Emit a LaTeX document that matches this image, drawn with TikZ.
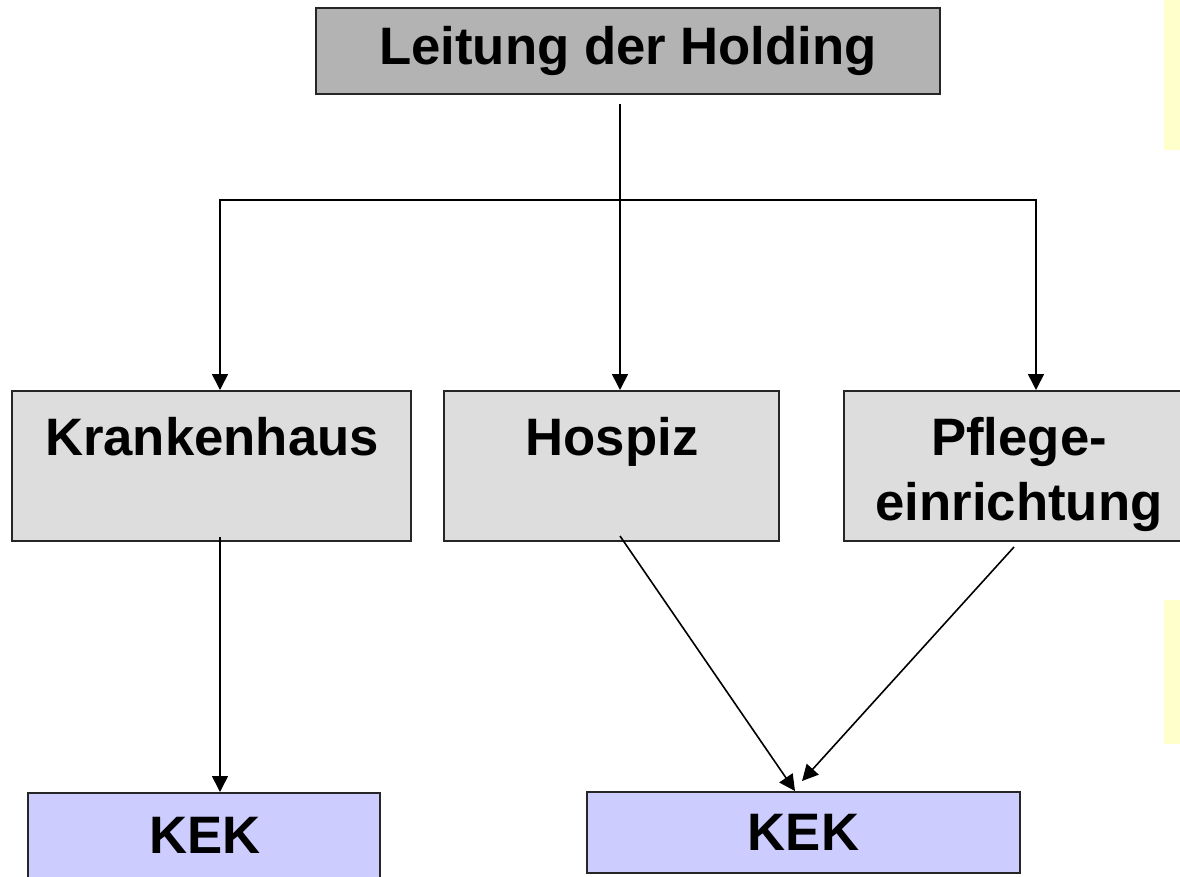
\documentclass[tikz,border=0pt]{standalone}
\usepackage{fontspec}
\setmainfont{Liberation Sans}
\usetikzlibrary{arrows.meta, calc}

\definecolor{holdgray}{HTML}{B3B3B3}
\definecolor{unitgray}{HTML}{DDDDDD}
\definecolor{kekblue}{HTML}{CCCCFF}
\definecolor{noteyellow}{HTML}{FFFFCC}

\begin{document}
\begin{tikzpicture}[
            x = 1pt, y = -1pt, % pixel-like grid, y grows downwards
            > = {Triangle[length=16pt, width=16pt]}, % arrow head style
            line width = 1.6pt, % line style
            every node/.style = {inner sep = 0pt, font = \fontsize{52.7}{65}\selectfont\bfseries}
        ]

        \tikzstyle{box}=[
            draw = black!85,
            line width = 2pt,
            rectangle
        ]
        \tikzstyle{holding}=[box, fill = holdgray]
        \tikzstyle{unit}=[box, fill = unitgray, minimum height = 150pt]
        \tikzstyle{kek}=[box, fill = kekblue]

        \useasboundingbox (0,0) rectangle (1180,876);
        \clip (0,0) rectangle (1180,876);

        % yellow strips at the right edge
        \fill[noteyellow] (1164,0) rectangle (1190,150);
        \fill[noteyellow] (1164,600) rectangle (1190,744);

        \node[holding, minimum width = 624pt, minimum height = 86pt] (lead) at (628,51) {Leitung der Holding};

        \node[unit, minimum width = 399pt] (khaus) at (211.5,466) {};
        \node[unit, minimum width = 335pt] (hospiz) at (611.5,466) {};
        \node[unit, minimum width = 350pt] (pflege) at (1019,466) {};
        \node[anchor = base] (khausname) at (212,455) {Krankenhaus};
        \node[anchor = base] (hospizname) at (612,455) {Hospiz};
        \node[align = center] (pflegename) at (1019,474) {Pflege-\\einrichtung};

        \node[kek, minimum width = 352pt, minimum height = 100pt, anchor = north west] (kekK) at (27,792) {};
        \node (kekKname) at (205,835) {KEK};
        \node[kek, minimum width = 433pt, minimum height = 81pt] (kekH) at (803.5,832.5) {KEK};

        \coordinate (leadout) at (620,104);
        \coordinate (busL) at (220,200);
        \coordinate (busR) at (1036,200);

        \draw[->] (leadout) -- (leadout |- hospiz.north);
        \draw[<->] (busL |- khaus.north) -- (busL) -- (busR) -- (busR |- pflege.north);
        \draw[->] ($(busL |- khaus.south)+(0,-5)$) -- (busL |- kekK.north);
        \draw[->] ($(hospiz.south)+(8.5,-6)$) -- ($(kekH.north)+(-8.5,0)$);
        \draw[->] ($(pflege.south)+(-5,5)$) -- ($(kekH.north)+(-1.5,-10)$);
    \end{tikzpicture}
\end{document}
